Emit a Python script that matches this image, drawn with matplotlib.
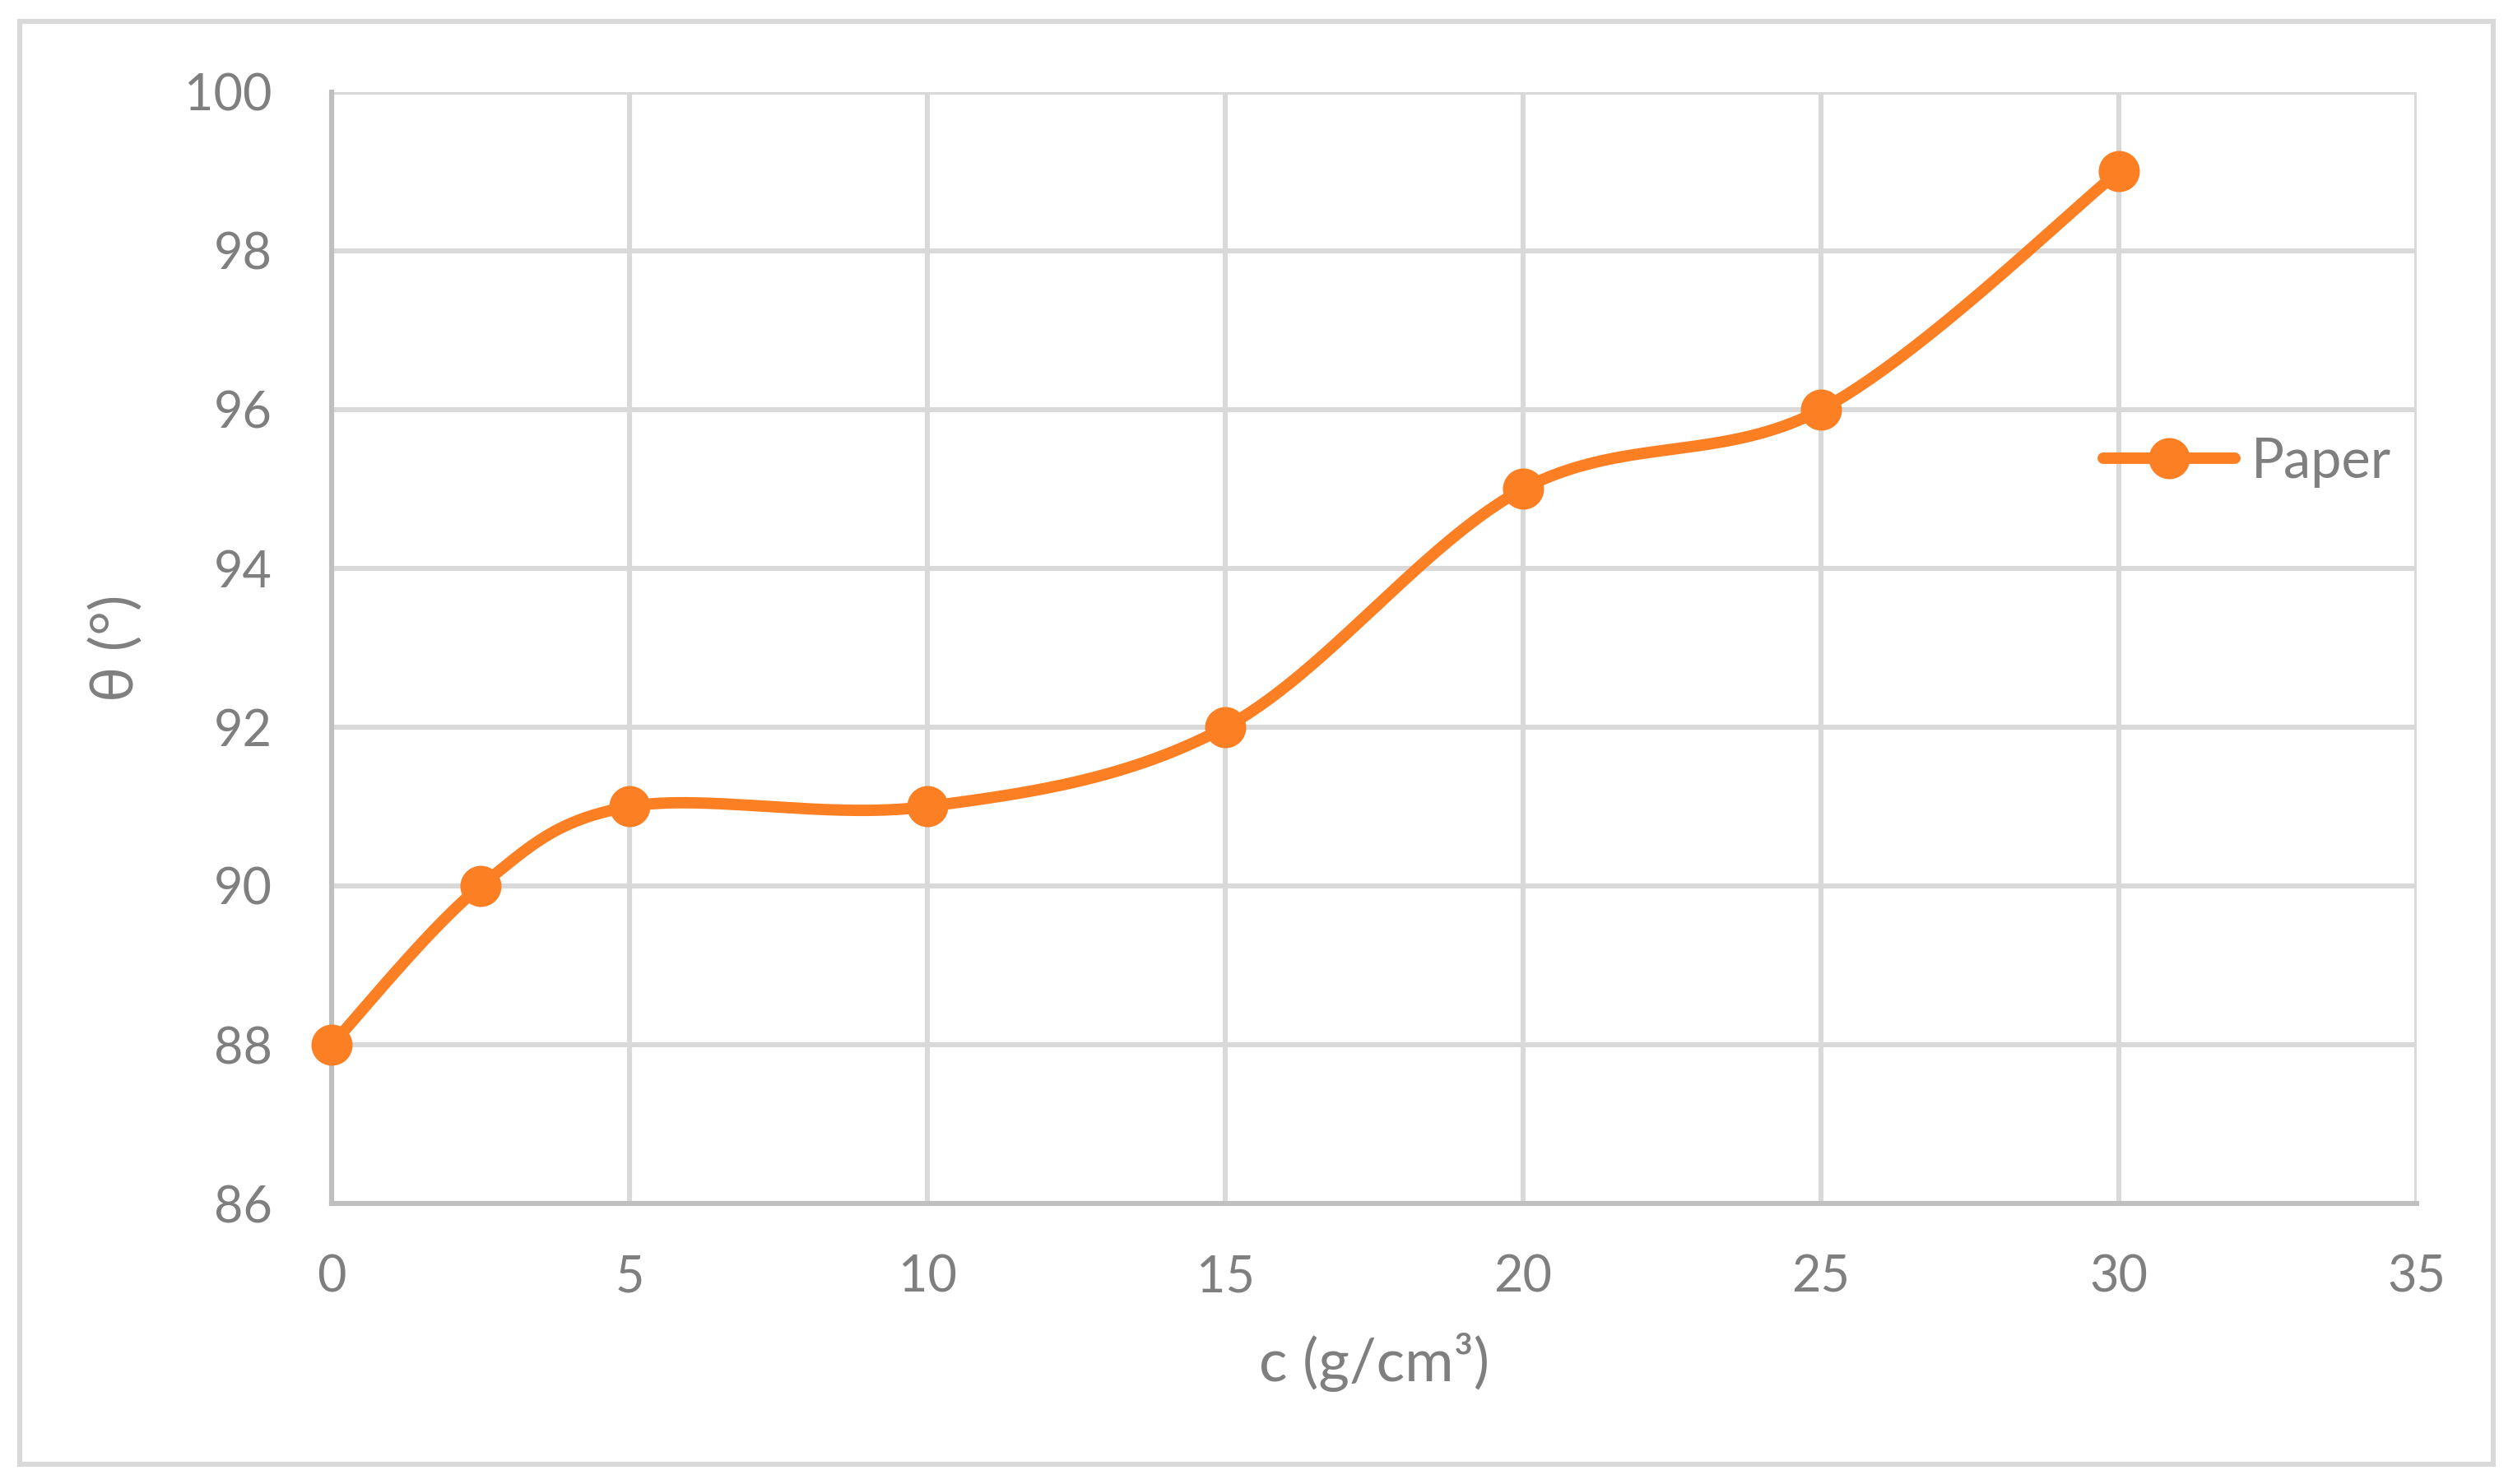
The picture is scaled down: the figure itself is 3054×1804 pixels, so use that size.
import numpy as np
import matplotlib
matplotlib.use('Agg')
import matplotlib.pyplot as plt
from matplotlib.patches import Rectangle
from matplotlib.lines import Line2D

# data
conc = [0, 2.5, 5, 10, 15, 20, 25, 30]
theta = [88, 90, 91, 91, 92, 95, 96, 99]
series_name = 'Paper'
x_ticks = [0, 5, 10, 15, 20, 25, 30, 35]
y_ticks = [86, 88, 90, 92, 94, 96, 98, 100]

orange = '#FD7F23'
grey_txt = '#7F7F7F'
grid_col = '#D9D9D9'

plt.rcParams['font.family'] = ['Lato', 'DejaVu Sans']


def smooth(xs, ys, n=60):
    # excel-like smoothed line (catmull-rom bezier segments)
    p = np.column_stack([xs, ys]).astype(float)
    p = np.vstack([p[0], p, p[-1]])
    out = []
    t = np.linspace(0, 1, n)[:, None]
    for i in range(1, len(p) - 2):
        p0, p1, p2, p3 = p[i - 1], p[i], p[i + 1], p[i + 2]
        c1 = p1 + (p2 - p0) / 6
        c2 = p2 - (p3 - p1) / 6
        seg = ((1 - t) ** 3) * p1 + 3 * ((1 - t) ** 2) * t * c1 + 3 * (1 - t) * t ** 2 * c2 + t ** 3 * p2
        out.append(seg)
    out = np.vstack(out)
    return out[:, 0], out[:, 1]


fig = plt.figure(figsize=(15.27, 9.02), dpi=200)
ax = fig.add_axes([0.132, 0.189, 0.8297, 0.749])

sx, sy = smooth(conc, theta)
ax.plot(sx, sy, color=orange, lw=5, solid_capstyle='round', zorder=3, clip_on=False)
ax.plot(conc, theta, 'o', color=orange, ms=17, zorder=4, clip_on=False)

ax.set_xlim(0, 35)
ax.set_ylim(86, 100)
ax.set_xticks(x_ticks)
ax.set_yticks(y_ticks)
ax.grid(True, color=grid_col, lw=2.2)
ax.set_axisbelow(True)
for s in ['top', 'right']:
    ax.spines[s].set_visible(False)
for s in ['left', 'bottom']:
    ax.spines[s].set_color('#BFBFBF')
    ax.spines[s].set_linewidth(2.2)
ax.tick_params(length=0, labelsize=22, labelcolor=grey_txt)
ax.tick_params(axis='x', pad=22)
ax.tick_params(axis='y', pad=26)

ax.set_xlabel('c (g/cm³)', fontsize=26, color=grey_txt, labelpad=14)
ax.set_ylabel('θ (°)', fontsize=26, color=grey_txt, labelpad=18)

handle = Line2D([], [], color=orange, lw=5, marker='o', ms=17, solid_capstyle='round')
leg = ax.legend([handle], [series_name], loc='center left', bbox_to_anchor=(0.826, 0.667),
                frameon=False, fontsize=24, handlelength=2.4, handletextpad=0.3)
for t in leg.get_texts():
    t.set_color(grey_txt)

fig.patches.append(Rectangle((0.008, 0.0135), 0.984, 0.972, transform=fig.transFigure,
                             fill=False, edgecolor=grid_col, lw=2.2))

fig.savefig('out.png', dpi=200)
